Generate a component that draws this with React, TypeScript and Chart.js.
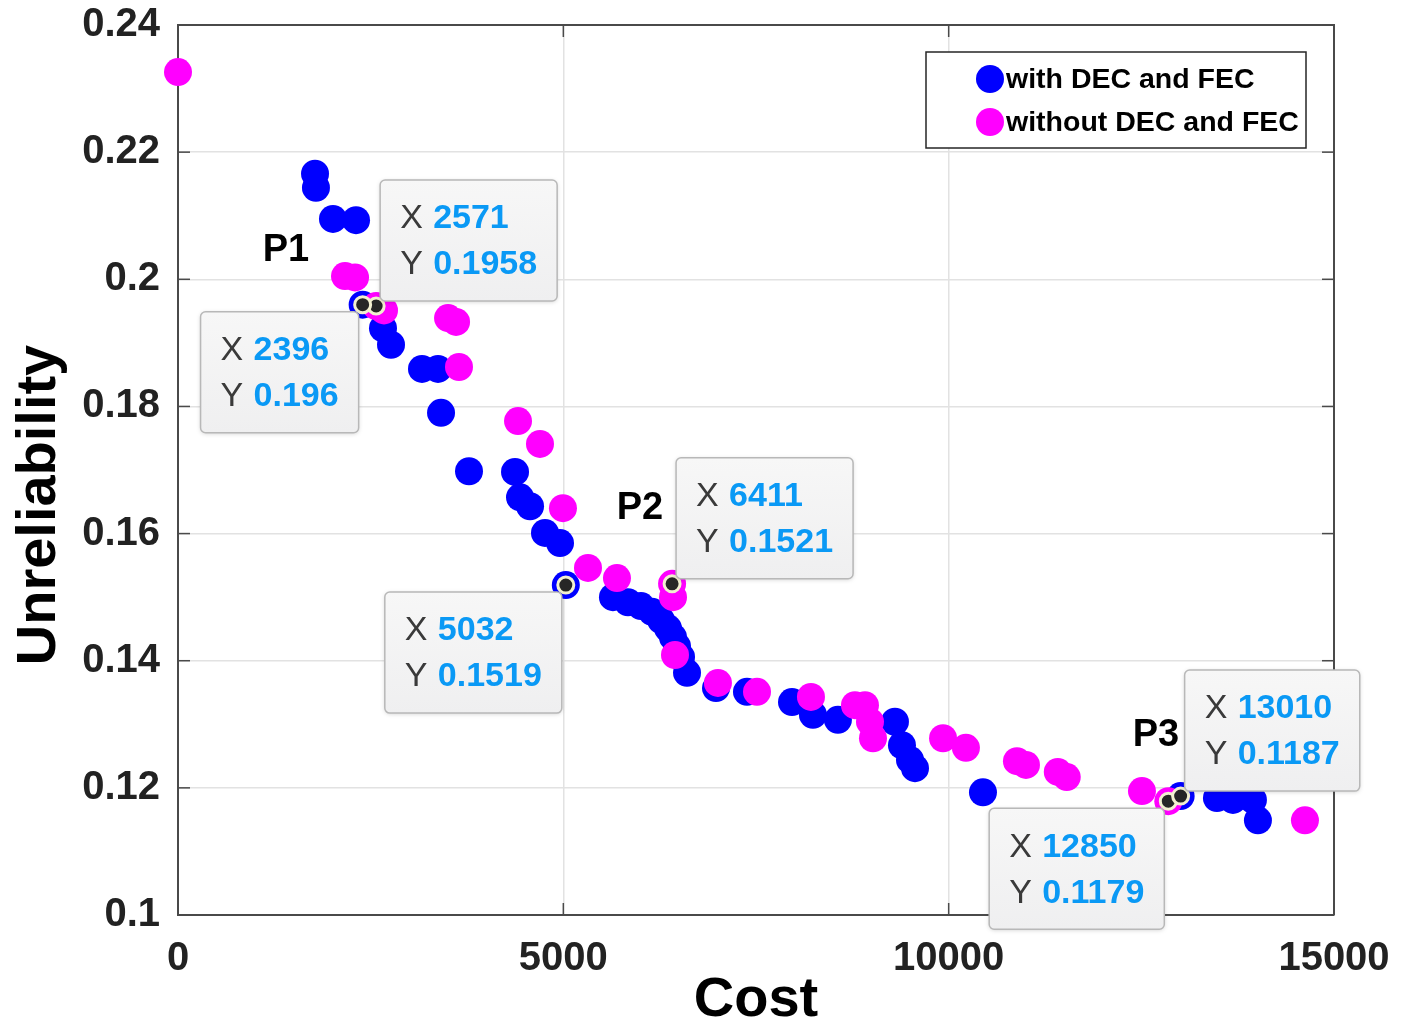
import React, { useEffect, useRef } from "react";
import { Chart, registerables } from "chart.js";

Chart.register(...registerables);

// ---------- data ----------
const blueX = [1778, 1790, 2011, 2310, 2396, 2660, 2764, 3166, 3374, 3413, 3776, 4373, 4438, 4568, 4762, 4957, 5032, 5644, 5839, 6007, 6150, 6267, 6358, 6423, 6475, 6527, 6605, 6981, 7383, 7967, 8239, 8563, 9303, 9394, 9498, 9563, 10445, 13010, 13481, 13689, 13948, 14013];
const blueY = [0.2166, 0.2144, 0.2095, 0.2093, 0.196, 0.1923, 0.1897, 0.1859, 0.1859, 0.179, 0.1698, 0.1697, 0.1657, 0.1643, 0.1601, 0.1585, 0.1519, 0.15, 0.1492, 0.1486, 0.1477, 0.1464, 0.1451, 0.1437, 0.1423, 0.1406, 0.1381, 0.1357, 0.1351, 0.1335, 0.1315, 0.1307, 0.1304, 0.1267, 0.1244, 0.1231, 0.1193, 0.1187, 0.1184, 0.1181, 0.1181, 0.1149];

const magX = [0, 2167, 2297, 2571, 2673, 3504, 3608, 3646, 4412, 4697, 4995, 5320, 5696, 6411, 6423, 6449, 7006, 7513, 8213, 8784, 8914, 8979, 9018, 9927, 10224, 10886, 11003, 11416, 11532, 12508, 12850, 14623];
const magY = [0.2326, 0.2005, 0.2003, 0.1958, 0.1951, 0.1939, 0.1933, 0.1862, 0.1777, 0.1741, 0.164, 0.1546, 0.153, 0.1521, 0.15, 0.1409, 0.1365, 0.1351, 0.1343, 0.133, 0.133, 0.1304, 0.1278, 0.1278, 0.1263, 0.1242, 0.1236, 0.1225, 0.1217, 0.1195, 0.1179, 0.1149];

const tipX = [2571, 2396, 5032, 6411, 12850, 13010];
const tipY = [0.1958, 0.196, 0.1519, 0.1521, 0.1179, 0.1187];
const tipSide = ["ne", "sw", "sw", "ne", "sw", "ne"];

const pointNames = ["P1", "P2", "P3"];
const pointNameX = [1401, 5994, 12690];
const pointNameY = [0.2046, 0.164, 0.1283];

const seriesNames = ["with DEC and FEC", "without DEC and FEC"];
const seriesColors = ["#0000ff", "#ff00ff"];

const xTicks = [0, 5000, 10000, 15000];
const yTicks = [0.1, 0.12, 0.14, 0.16, 0.18, 0.2, 0.22, 0.24];

const xTitle = "Cost";
const yTitle = "Unreliability";

// ---------- styles ----------
const FONT = "'Liberation Sans', Arial, sans-serif";
const AXIS = "#4a4a4a";
const TEXT = "#222222";

const overlayPlugin = {
  id: "overlay",
  afterDraw(chart: any) {
    const { ctx, chartArea: a } = chart;
    const x = chart.scales.x;
    const y = chart.scales.y;
    ctx.save();

    // box (top + right)
    ctx.strokeStyle = AXIS;
    ctx.lineWidth = 2;
    ctx.beginPath();
    ctx.moveTo(a.left, a.top);
    ctx.lineTo(a.right, a.top);
    ctx.lineTo(a.right, a.bottom);
    ctx.stroke();

    // inward ticks
    ctx.lineWidth = 1.5;
    const seg = (x1: number, y1: number, x2: number, y2: number) => {
      ctx.beginPath();
      ctx.moveTo(x1, y1);
      ctx.lineTo(x2, y2);
      ctx.stroke();
    };
    yTicks.forEach((v) => {
      const py = y.getPixelForValue(v);
      seg(a.left, py, a.left + 12, py);
      seg(a.right - 12, py, a.right, py);
    });
    xTicks.forEach((v) => {
      const px = x.getPixelForValue(v);
      seg(px, a.bottom, px, a.bottom - 12);
      seg(px, a.top, px, a.top + 12);
    });

    // y title
    ctx.save();
    ctx.translate(40, 505);
    ctx.rotate(-Math.PI / 2);
    ctx.font = `bold 56px ${FONT}`;
    ctx.fillStyle = "#000";
    ctx.textAlign = "center";
    ctx.textBaseline = "middle";
    ctx.fillText(yTitle, 0, 0);
    ctx.restore();

    // datatips
    tipX.forEach((vx, i) => {
      const px = x.getPixelForValue(vx);
      const py = y.getPixelForValue(tipY[i]);
      const sx = String(vx);
      const sy = String(tipY[i]);
      ctx.font = `bold 34px ${FONT}`;
      const tw = Math.max(ctx.measureText(sx).width, ctx.measureText(sy).width);
      const w = 53 + tw + 20;
      const h = 121;
      let left: number, top: number;
      if (tipSide[i] === "ne") {
        left = px + 4;
        top = py - 5 - h;
      } else {
        left = px - 4 - w;
        top = py + 7;
      }
      ctx.save();
      ctx.shadowColor = "rgba(0,0,0,0.18)";
      ctx.shadowBlur = 4;
      ctx.shadowOffsetY = 1;
      const g = ctx.createLinearGradient(0, top, 0, top + h);
      g.addColorStop(0, "#f7f7f7");
      g.addColorStop(1, "#efeff0");
      ctx.fillStyle = g;
      ctx.beginPath();
      ctx.roundRect(left, top, w, h, 5);
      ctx.fill();
      ctx.restore();
      ctx.strokeStyle = "#b8b8b8";
      ctx.lineWidth = 1.5;
      ctx.beginPath();
      ctx.roundRect(left, top, w, h, 5);
      ctx.stroke();

      ctx.textAlign = "left";
      ctx.textBaseline = "middle";
      ctx.font = `34px ${FONT}`;
      ctx.fillStyle = "#3a3a3a";
      ctx.fillText("X", left + 20, top + 39);
      ctx.fillText("Y", left + 20, top + 85);
      ctx.font = `bold 34px ${FONT}`;
      ctx.fillStyle = "#0a99f5";
      ctx.fillText(sx, left + 53, top + 39);
      ctx.fillText(sy, left + 53, top + 85);
    });

    // point labels
    ctx.font = `bold 38px ${FONT}`;
    ctx.fillStyle = "#000";
    ctx.textAlign = "center";
    ctx.textBaseline = "middle";
    pointNames.forEach((n, i) => {
      ctx.fillText(n, x.getPixelForValue(pointNameX[i]), y.getPixelForValue(pointNameY[i]));
    });

    // legend
    ctx.fillStyle = "#ffffff";
    ctx.fillRect(926, 52, 380, 96);
    ctx.strokeStyle = "#262626";
    ctx.lineWidth = 1.5;
    ctx.strokeRect(926, 52, 380, 96);
    ctx.font = `bold 28.5px ${FONT}`;
    ctx.textAlign = "left";
    ctx.textBaseline = "middle";
    seriesNames.forEach((n, i) => {
      const cy = 79 + i * 43;
      ctx.fillStyle = seriesColors[i];
      ctx.beginPath();
      ctx.arc(990, cy, 14, 0, Math.PI * 2);
      ctx.fill();
      ctx.fillStyle = "#000";
      ctx.fillText(n, 1006, cy + 1);
    });

    ctx.restore();
  },
};

export default function App() {
  const ref = useRef<HTMLCanvasElement | null>(null);

  useEffect(() => {
    document.body.style.margin = "0";
    const canvas = ref.current;
    if (!canvas) return;
    const chart = new Chart(canvas, {
      type: "scatter",
      data: {
        datasets: [
          {
            label: seriesNames[0],
            data: blueX.map((v, i) => ({ x: v, y: blueY[i] })),
            backgroundColor: seriesColors[0],
            borderWidth: 0,
            pointRadius: 14,
            order: 2,
            clip: false,
          },
          {
            label: seriesNames[1],
            data: magX.map((v, i) => ({ x: v, y: magY[i] })),
            backgroundColor: seriesColors[1],
            borderWidth: 0,
            pointRadius: 14,
            order: 1,
            clip: false,
          },
          {
            label: "datatips",
            data: tipX.map((v, i) => ({ x: v, y: tipY[i] })),
            backgroundColor: "#262626",
            borderColor: "#f2f0d0",
            borderWidth: 3,
            pointRadius: 8,
            order: 0,
            clip: false,
          },
        ],
      },
      options: {
        responsive: false,
        animation: false,
        devicePixelRatio: 1,
        layout: { padding: { left: 0, top: 25, right: 76, bottom: 0 } },
        plugins: {
          legend: { display: false },
          tooltip: { enabled: false },
        },
        scales: {
          x: {
            type: "linear",
            min: 0,
            max: 15000,
            afterFit: (s: any) => {
              s.height = 108;
              s.paddingLeft = 0;
              s.paddingRight = 0;
            },
            afterBuildTicks: (s: any) => {
              s.ticks = xTicks.map((v) => ({ value: v }));
            },
            ticks: {
              callback: (v: any) => String(v),
              font: { family: FONT, size: 40, weight: "bold" },
              color: TEXT,
              padding: 20,
              maxRotation: 0,
            },
            grid: { color: "#e2e2e2", lineWidth: 1.5, drawTicks: false },
            border: { display: true, color: AXIS, width: 2 },
            title: {
              display: true,
              text: xTitle,
              font: { family: FONT, size: 56, weight: "bold", lineHeight: 0.8 },
              color: "#000",
              padding: { top: 0, bottom: 0 },
            },
          },
          y: {
            type: "linear",
            min: 0.1,
            max: 0.24,
            afterFit: (s: any) => {
              s.width = 178;
              s.paddingTop = 0;
              s.paddingBottom = 0;
            },
            afterBuildTicks: (s: any) => {
              s.ticks = yTicks.map((v) => ({ value: v }));
            },
            ticks: {
              callback: (v: any) => String(Number(Number(v).toFixed(2))),
              font: { family: FONT, size: 40, weight: "bold" },
              color: TEXT,
              padding: 18,
            },
            grid: { color: "#e2e2e2", lineWidth: 1.5, drawTicks: false },
            border: { display: true, color: AXIS, width: 2 },
          },
        },
      } as any,
      plugins: [overlayPlugin],
    });
    return () => chart.destroy();
  }, []);

  return (
    <div style={{ position: "absolute", left: 0, top: 0, width: 1410, height: 1023, background: "#fff" }}>
      <canvas ref={ref} width={1410} height={1023} style={{ display: "block", width: 1410, height: 1023 }} />
    </div>
  );
}
